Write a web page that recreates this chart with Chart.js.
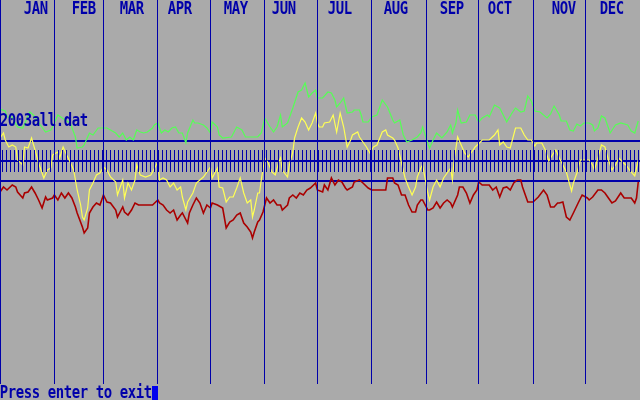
<!DOCTYPE html>
<html>
<head>
<meta charset="utf-8">
<script src="https://cdn.jsdelivr.net/npm/chart.js@4.4.0/dist/chart.umd.min.js"></script>
<style>
  html, body { margin: 0; padding: 0; background: #aaaaaa; }
  canvas { display: block; }
</style>
</head>
<body>
<canvas id="chart" width="640" height="400"></canvas>
<script>
// month gridlines (day of year) and the text-screen labels above them
const months = ["JAN", "FEB", "MAR", "APR", "MAY", "JUN", "JUL", "AUG", "SEP", "OCT", "NOV", "DEC"];
const monthStartDays = [0, 31, 59, 90, 120, 151, 181, 212, 243, 273, 304, 334];
const monthLabelCols = [3, 9, 15, 21, 28, 34, 41, 48, 55, 61, 69, 75];
const bandLevels = [-20, 0, 20];
const fileName = "2003all.dat";
const exitPrompt = "Press enter to exit";

const greenDays = [
  0, 3, 4, 7, 10, 13, 17, 19, 23, 26,
  29, 30, 33, 37, 40, 43, 44, 47, 48, 50,
  51, 53, 56, 61, 63, 66, 68, 70, 72, 74,
  76, 78, 80, 82, 84, 87, 88, 90, 92, 94,
  96, 98, 100, 102, 104, 106, 107, 110, 111, 113,
  116, 118, 120, 121, 124, 125, 127, 132, 135, 138,
  140, 147, 149, 151, 154, 156, 158, 160, 161, 164,
  167, 170, 172, 174, 176, 178, 180, 181, 184, 187,
  189, 191, 192, 194, 196, 198, 201, 202, 205, 206,
  207, 210, 212, 215, 217, 218, 221, 224, 225, 228,
  230, 232, 235, 238, 240, 241, 244, 245, 247, 249,
  252, 255, 257, 258, 260, 261, 263, 266, 268, 271,
  273, 275, 278, 279, 282, 285, 287, 289, 292, 294,
  297, 299, 301, 303, 305, 308, 312, 314, 316, 319,
  320, 323, 325, 327, 329, 331, 333, 336, 338, 339,
  341, 343, 345, 348, 351, 354, 358, 360, 362, 364
];
const greenValues = [
  52, 50, 44, 44, 34, 33, 49, 46, 36, 29,
  31, 34, 46, 41, 38, 24, 13, 14, 16, 24,
  28, 26, 33, 33, 31, 28, 24, 28, 21, 24,
  21, 31, 29, 28, 29, 33, 36, 38, 28, 31,
  29, 33, 34, 28, 28, 18, 28, 41, 38, 38,
  36, 33, 28, 39, 34, 26, 23, 24, 34, 31,
  24, 24, 28, 43, 34, 29, 34, 46, 34, 38,
  53, 69, 71, 78, 64, 68, 71, 63, 63, 69,
  68, 61, 54, 58, 63, 48, 49, 51, 51, 46,
  39, 39, 44, 46, 56, 61, 54, 41, 38, 41,
  26, 19, 21, 24, 28, 34, 18, 13, 21, 28,
  23, 29, 36, 28, 38, 51, 38, 39, 46, 46,
  39, 43, 46, 44, 56, 53, 46, 39, 48, 53,
  49, 50, 65, 60, 50, 49, 43, 47, 55, 46,
  40, 40, 31, 30, 37, 35, 38, 38, 36, 30,
  33, 45, 43, 28, 36, 38, 36, 30, 28, 40
];

const yellowDays = [
  0, 2, 3, 5, 7, 9, 10, 13, 14, 16,
  18, 20, 22, 25, 27, 29, 30, 33, 34, 36,
  38, 40, 42, 44, 46, 47, 48, 50, 51, 53,
  55, 57, 59, 61, 63, 66, 67, 70, 71, 73,
  75, 77, 78, 80, 83, 86, 87, 90, 91, 93,
  95, 97, 99, 101, 103, 104, 106, 107, 110, 112,
  114, 116, 118, 120, 121, 124, 125, 127, 129, 131,
  133, 135, 137, 139, 141, 143, 144, 145, 147, 148,
  149, 151, 153, 155, 157, 159, 160, 161, 164, 165,
  167, 168, 170, 172, 174, 176, 178, 180, 181, 182,
  184, 185, 188, 190, 192, 194, 196, 198, 200, 201,
  204, 205, 207, 209, 211, 213, 215, 218, 220, 221,
  224, 225, 227, 229, 231, 233, 235, 237, 238, 240,
  241, 244, 245, 247, 249, 251, 253, 255, 257, 258,
  259, 261, 263, 265, 267, 269, 271, 274, 275, 278,
  279, 282, 284, 285, 287, 289, 291, 294, 297, 299,
  301, 303, 305, 306, 309, 311, 313, 315, 317, 319,
  321, 323, 325, 326, 327, 329, 331, 333, 336, 338,
  339, 341, 343, 345, 347, 349, 351, 353, 355, 357,
  359, 362, 363, 364
];
const yellowValues = [
  23, 28, 21, 14, 16, 14, 1, -4, 14, 13,
  23, 11, -2, -17, -9, -7, 6, 9, 3, 14,
  6, -1, -9, -29, -44, -56, -59, -47, -29, -22,
  -14, -12, -6, -9, -16, -21, -34, -19, -37, -22,
  -29, -19, -4, -14, -16, -14, -11, -1, -19, -17,
  -19, -26, -22, -29, -26, -36, -49, -41, -32, -22,
  -19, -16, -11, -6, -17, -7, -26, -27, -41, -36,
  -36, -27, -17, -32, -42, -39, -56, -49, -32, -32,
  -19, 3, -2, -11, -14, -1, 3, -9, -16, -4,
  9, 23, 34, 43, 39, 31, 38, 48, 38, 34,
  34, 38, 39, 46, 29, 48, 34, 14, 21, 26,
  29, 24, 19, 14, 8, 14, 16, 29, 31, 26,
  23, 21, 13, -2, -17, -26, -34, -26, -16, -7,
  -4, -32, -39, -26, -19, -26, -17, -12, -7, -19,
  1, 24, 16, 8, 4, 9, 14, 19, 21, 21,
  21, 26, 31, 16, 19, 14, 13, 33, 33, 26,
  21, 21, 15, 18, 18, 11, 0, 6, 11, 3,
  -4, -11, -24, -30, -22, -12, 1, 1, 1, -4,
  -9, 3, 16, 14, 1, -9, -4, 3, -1, -4,
  -9, -15, -7, 1
];

const redDays = [
  0, 2, 4, 7, 9, 10, 13, 14, 16, 18,
  20, 22, 24, 26, 27, 30, 31, 33, 35, 37,
  39, 41, 43, 44, 47, 48, 50, 51, 53, 55,
  57, 59, 61, 63, 66, 67, 70, 71, 73, 75,
  77, 79, 82, 84, 87, 90, 91, 93, 95, 97,
  99, 101, 103, 104, 107, 108, 110, 112, 114, 116,
  118, 120, 121, 124, 127, 129, 131, 133, 135, 137,
  139, 141, 143, 144, 145, 147, 148, 150, 152, 154,
  156, 158, 160, 161, 164, 165, 167, 169, 171, 173,
  175, 177, 180, 181, 184, 185, 187, 189, 191, 193,
  195, 197, 198, 201, 202, 205, 207, 210, 212, 215,
  218, 220, 221, 224, 225, 227, 229, 231, 233, 235,
  237, 238, 240, 241, 244, 245, 247, 249, 251, 253,
  255, 257, 258, 261, 262, 264, 266, 268, 270, 272,
  273, 275, 279, 281, 283, 285, 287, 289, 291, 293,
  295, 297, 298, 301, 304, 307, 310, 312, 314, 316,
  318, 319, 321, 323, 325, 327, 330, 332, 335, 336,
  338, 341, 343, 345, 347, 349, 351, 354, 356, 358,
  360, 362, 363, 364
];
const redValues = [
  -31, -26, -29, -24, -26, -31, -37, -32, -31, -26,
  -32, -39, -47, -36, -39, -37, -34, -39, -32, -37,
  -32, -37, -46, -52, -66, -72, -67, -52, -46, -42,
  -44, -34, -41, -42, -49, -56, -46, -51, -54, -49,
  -42, -44, -44, -44, -44, -39, -42, -44, -49, -52,
  -49, -59, -54, -52, -62, -52, -44, -37, -42, -52,
  -44, -47, -42, -44, -47, -67, -61, -59, -54, -52,
  -62, -66, -71, -77, -71, -61, -59, -51, -37, -42,
  -39, -44, -44, -49, -44, -37, -34, -37, -32, -34,
  -29, -27, -22, -29, -31, -24, -29, -17, -24, -19,
  -21, -27, -29, -26, -21, -19, -22, -27, -29, -29,
  -29, -29, -17, -17, -22, -24, -34, -34, -44, -51,
  -51, -44, -39, -39, -49, -49, -47, -41, -47, -42,
  -39, -42, -46, -34, -26, -26, -32, -42, -34, -29,
  -21, -24, -24, -29, -26, -36, -27, -26, -29, -22,
  -19, -19, -26, -41, -41, -36, -29, -34, -46, -46,
  -42, -42, -41, -56, -59, -52, -41, -34, -37, -39,
  -36, -29, -29, -32, -37, -42, -40, -32, -37, -37,
  -37, -42, -37, -21
];

const BLUE = "#0000aa";
const tickCount = 160;
const tickHalf = 11;

function points(days, values) {
  return days.map((d, i) => ({ x: d, y: values[i] }));
}

// draws a string on the 80x25 text screen
function textAt(ctx, str, col, row) {
  ctx.save();
  ctx.fillStyle = BLUE;
  ctx.font = 'bold 17px "DejaVu Sans Mono"';
  ctx.textAlign = "center";
  ctx.textBaseline = "alphabetic";
  for (let i = 0; i < str.length; i++) {
    ctx.save();
    ctx.translate((col + i) * 8 + 4, row * 16 + 14);
    ctx.scale(0.82, 1);
    ctx.fillText(str[i], 0, 0);
    ctx.restore();
  }
  ctx.restore();
}

const dosScreen = {
  id: "dosScreen",
  afterDatasetsDraw(chart) {
    const ctx = chart.ctx;
    const xs = chart.scales.x;
    const ys = chart.scales.y;
    const area = chart.chartArea;
    ctx.save();
    ctx.strokeStyle = BLUE;
    ctx.lineWidth = 1;
    // month separators
    ctx.beginPath();
    monthStartDays.forEach((d) => {
      const px = Math.floor(xs.getPixelForValue(d)) + 0.5;
      ctx.moveTo(px, area.top);
      ctx.lineTo(px, area.bottom);
    });
    ctx.stroke();
    // dense tick comb across the zero band
    const top = ys.getPixelForValue(tickHalf);
    const bottom = ys.getPixelForValue(-tickHalf);
    ctx.beginPath();
    for (let k = 0; k < tickCount; k++) {
      const px = Math.round(xs.getPixelForValue((k + 0.5) * 365 / tickCount)) + 0.5;
      ctx.moveTo(px, top);
      ctx.lineTo(px, bottom);
    }
    ctx.stroke();
    ctx.restore();
  },
  afterDraw(chart) {
    const ctx = chart.ctx;
    months.forEach((m, i) => textAt(ctx, m, monthLabelCols[i], 0));
    textAt(ctx, fileName, 0, 7);
    textAt(ctx, exitPrompt, 0, 24);
    ctx.save();
    ctx.fillStyle = "#0000ee";
    ctx.fillRect(exitPrompt.length * 8, 24 * 16 + 2, 6, 14);
    ctx.restore();
  }
};

const ctx = document.getElementById("chart").getContext("2d");
const chart = new Chart(ctx, {
  type: "line",
  data: {
    datasets: [
      {
        label: "high",
        data: points(greenDays, greenValues),
        borderColor: "#55ff55",
        borderWidth: 1.2,
        pointRadius: 0,
        tension: 0,
        fill: false
      },
      {
        label: "close",
        data: points(yellowDays, yellowValues),
        borderColor: "#ffff55",
        borderWidth: 1.2,
        pointRadius: 0,
        tension: 0,
        fill: false
      },
      {
        label: "low",
        data: points(redDays, redValues),
        borderColor: "#aa0000",
        borderWidth: 1.6,
        pointRadius: 0,
        tension: 0,
        fill: false
      }
    ]
  },
  options: {
    responsive: false,
    animation: false,
    events: [],
    layout: { padding: { left: 0, right: 0, top: 0, bottom: 16 } },
    plugins: { legend: { display: false }, tooltip: { enabled: false } },
    scales: {
      x: {
        type: "linear",
        min: 0,
        max: 365,
        afterBuildTicks: (axis) => { axis.ticks = monthStartDays.map((v) => ({ value: v })); },
        ticks: { display: false },
        grid: { display: false, drawTicks: false },
        border: { display: false }
      },
      y: {
        type: "linear",
        min: -223,
        max: 161,
        z: 1,
        afterBuildTicks: (axis) => { axis.ticks = bandLevels.map((v) => ({ value: v })); },
        ticks: { display: false },
        grid: { color: BLUE, lineWidth: 2, drawTicks: false },
        border: { display: false }
      }
    }
  },
  plugins: [dosScreen]
});
</script>
</body>
</html>
